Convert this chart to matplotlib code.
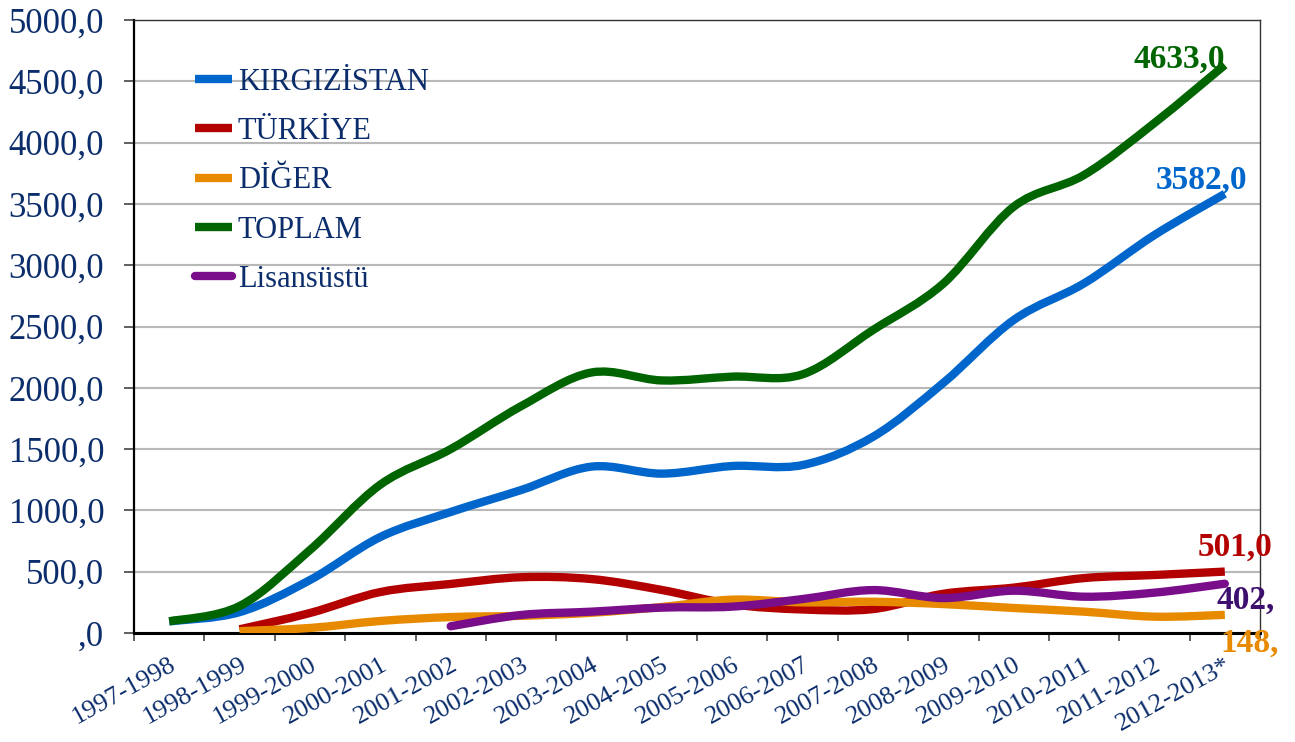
import numpy as np
import matplotlib
matplotlib.use("Agg")
import matplotlib.pyplot as plt
from matplotlib.path import Path
from matplotlib.patches import PathPatch
from matplotlib.lines import Line2D

plt.rcParams['font.family'] = ['Liberation Serif', 'DejaVu Serif']

categories = ["1997-1998", "1998-1999", "1999-2000", "2000-2001", "2001-2002",
              "2002-2003", "2003-2004", "2004-2005", "2005-2006", "2006-2007",
              "2007-2008", "2008-2009", "2009-2010", "2010-2011", "2011-2012",
              "2012-2013*"]
nan = np.nan
kirgizistan = [95, 170, 432, 783, 987, 1166, 1357, 1300, 1362, 1370, 1600, 2040, 2553, 2852, 3246, 3582]
turkiye = [nan, 30, 163, 334, 400, 455, 440, 351, 234, 192, 195, 320, 370, 448, 473, 501]
diger = [nan, 15, 41, 98, 130, 140, 165, 212, 272, 250, 255, 236, 204, 174, 133, 148]
toplam = [95, 220, 677, 1210, 1500, 1850, 2125, 2060, 2091, 2110, 2471, 2850, 3477, 3736, 4160, 4633]
lisansustu = [nan, nan, nan, nan, 55, 147, 174, 207, 215, 277, 350, 285, 345, 296, 329, 402]

series = [
    ("KIRGIZİSTAN", kirgizistan, "#0066CC"),
    ("TÜRKİYE", turkiye, "#B30000"),
    ("DİĞER", diger, "#E88A00"),
    ("TOPLAM", toplam, "#006400"),
    ("Lisansüstü", lisansustu, "#7A0D8A"),
]

NAVY = "#0B2D6B"
W, H = 1295, 742
fig = plt.figure(figsize=(W / 100, H / 100), dpi=100)
ax = fig.add_axes([134 / W, 109 / H, 1126 / W, 613 / H])
ax.set_xlim(-0.5, len(categories) - 0.5)
ax.set_ylim(0, 5000)


def smooth_path(xs, ys):
    pts = np.column_stack([xs, ys])
    n = len(pts)
    verts = [pts[0]]
    codes = [Path.MOVETO]
    for i in range(n - 1):
        p0 = pts[i - 1] if i > 0 else pts[i]
        p1 = pts[i]
        p2 = pts[i + 1]
        p3 = pts[i + 2] if i + 2 < n else pts[i + 1]
        c1 = p1 + (p2 - p0) / 6.0
        c2 = p2 - (p3 - p1) / 6.0
        verts += [c1, c2, p2]
        codes += [Path.CURVE4] * 3
    return Path(np.array(verts), codes)


for name, vals, color in series:
    v = np.array(vals, dtype=float)
    x = np.arange(len(v))
    m = ~np.isnan(v)
    path = smooth_path(x[m], v[m])
    cap = 'round' if name == "Lisansüstü" else 'butt'
    patch = PathPatch(path, facecolor='none', edgecolor=color, lw=6,
                      capstyle=cap, joinstyle='round', zorder=3)
    ax.add_patch(patch)

# grid & spines
ax.set_axisbelow(True)
ax.yaxis.grid(True, color='#B8B8B8', lw=1.5)
ax.spines['left'].set_color('black')
ax.spines['left'].set_linewidth(1.6)
ax.spines['bottom'].set_color('black')
ax.spines['bottom'].set_linewidth(2.2)
for s in ('top', 'right'):
    ax.spines[s].set_color('#333333')
    ax.spines[s].set_linewidth(1.0)

yt = np.arange(0, 5001, 500)
ax.set_yticks(yt)
ax.set_yticklabels([(f"{t:.1f}".replace('.', ',') if t else ",0") for t in yt],
                   fontsize=25, color=NAVY)
ax.tick_params(axis='y', direction='out', length=7.5, width=1.2, color='#444444', pad=14)

ax.set_xticks(np.arange(-0.5, len(categories), 1.0))
ax.set_xticklabels([])
ax.tick_params(axis='x', which='major', direction='out', length=6, width=1.2, color='#444444')
ax.set_xticks(np.arange(len(categories)), minor=True)
ax.set_xticklabels(categories, minor=True, fontsize=19, color=NAVY,
                   rotation=29, ha='right', va='top', rotation_mode='anchor')
ax.tick_params(axis='x', which='minor', length=0, pad=15)

# data labels
last = len(categories) - 1
lab_style = dict(fontsize=24, fontweight='bold', textcoords='offset pixels')
ax.annotate("4633,0", (last, toplam[-1]), xytext=(0, -3), ha='right', va='baseline',
            color="#006400", **lab_style)
ax.annotate("3582,0", (last, kirgizistan[-1]), xytext=(22, 5), ha='right', va='baseline',
            color="#0066CC", **lab_style)
ax.annotate("501,0", (last, turkiye[-1]), xytext=(48, 16), ha='right', va='baseline',
            color="#B30000", **lab_style)
ax.annotate("402,", (last, lisansustu[-1]), xytext=(-8, -25), ha='left', va='baseline',
            color="#3D0F6E", **lab_style, annotation_clip=False)
ax.annotate("148,", (last, diger[-1]), xytext=(-4, -37), ha='left', va='baseline',
            color="#E88A00", **lab_style, annotation_clip=False)

# legend
handles = []
for name, vals, color in series:
    cap = 'round' if name == "Lisansüstü" else 'butt'
    handles.append(Line2D([], [], color=color, lw=6, solid_capstyle=cap))
leg = ax.legend(handles, [s[0] for s in series], loc='upper left',
                bbox_to_anchor=(195 / W, 1 - 68 / H), bbox_transform=fig.transFigure,
                frameon=False, fontsize=22, handlelength=1.2, handletextpad=0.2,
                labelspacing=0.66, borderpad=0, borderaxespad=0)
for t in leg.get_texts():
    t.set_color(NAVY)

fig.savefig("out.png", dpi=100)
